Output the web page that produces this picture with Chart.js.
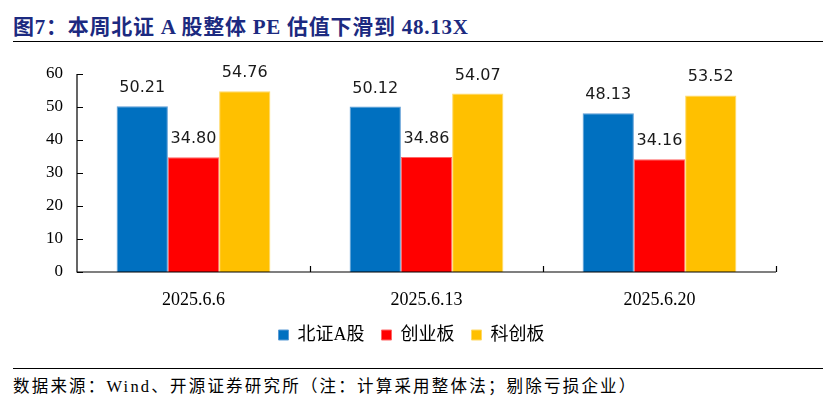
<!DOCTYPE html>
<html><head><meta charset="utf-8">
<script src="https://cdn.jsdelivr.net/npm/chart.js@4"></script>
<style>
html,body{margin:0;padding:0;background:#fff;width:823px;height:417px;overflow:hidden;position:relative}
#title{position:absolute;left:13px;top:10px;font:bold 21px "Liberation Serif","Noto Sans CJK SC",serif;color:#1c2a80;white-space:nowrap;letter-spacing:0.75px}
#tline{position:absolute;left:13px;top:41px;width:810px;height:0;border-top:1.5px solid #000}
#fline{position:absolute;left:13px;top:368px;width:810px;height:0;border-top:1.5px solid #000}
#foot{position:absolute;left:13px;top:373px;font:16.5px "Liberation Serif","Noto Sans CJK SC",serif;color:#000;white-space:nowrap;letter-spacing:2.2px}
#wrap{position:absolute;left:0;top:0;width:823px;height:354px}
</style></head>
<body>
<div id="title">图7：本周北证 A 股整体 PE 估值下滑到 48.13X</div>
<div id="tline"></div>
<div id="wrap"><canvas id="c"></canvas></div>
<div id="fline"></div>
<div id="foot">数据来源：Wind、开源证券研究所（注：计算采用整体法；剔除亏损企业）</div>
<script>
const categories = ["2025.6.6", "2025.6.13", "2025.6.20"];
const seriesNames = ["北证A股", "创业板", "科创板"];
const bzA = [50.21, 50.12, 48.13];
const cyb = [34.80, 34.86, 34.16];
const kcb = [54.76, 54.07, 53.52];
const yTicks = [0, 10, 20, 30, 40, 50, 60];
const colors = ["#0070C0", "#FF0000", "#FFC000"];
const borderColors = ["#5b9bd5", "#ff6666", "#ffd966"];

const labelPlugin = {
  id: 'vals',
  afterDatasetsDraw(chart) {
    const ctx = chart.ctx;
    ctx.save();
    ctx.font = '16px "DejaVu Sans", sans-serif';
    ctx.fillStyle = '#1a1a1a';
    ctx.textAlign = 'center';
    ctx.textBaseline = 'alphabetic';
    chart.data.datasets.forEach((ds, i) => {
      chart.getDatasetMeta(i).data.forEach((bar, j) => {
        ctx.fillText(ds.data[j].toFixed(2), bar.x, bar.y - 14);
      });
    });
    ctx.restore();
  }
};
const axisPlugin = {
  id: 'axes',
  afterDraw(chart) {
    const ctx = chart.ctx, x = chart.scales.x, y = chart.scales.y;
    const a = chart.chartArea;
    ctx.save();
    ctx.strokeStyle = '#000';
    ctx.lineWidth = 1.2;
    ctx.beginPath();
    ctx.moveTo(a.left, a.top); ctx.lineTo(a.left, a.bottom); ctx.lineTo(a.right, a.bottom);
    yTicks.forEach(v => { const py = Math.round(y.getPixelForValue(v)) + 0.5; ctx.moveTo(a.left, py); ctx.lineTo(a.left + 6, py); });
    for (let k = 1; k <= categories.length; k++) {
      const px = Math.round(x.getPixelForValue(k - 0.5)) + 0.5;
      ctx.moveTo(px, a.bottom); ctx.lineTo(px, a.bottom - 6);
    }
    ctx.stroke();
    ctx.restore();
  }
};

new Chart(document.getElementById('c'), {
  type: 'bar',
  data: {
    labels: categories,
    datasets: [bzA, cyb, kcb].map((d, i) => ({
      label: seriesNames[i], data: d, backgroundColor: colors[i],
      borderColor: borderColors[i], borderWidth: 1,
      categoryPercentage: 0.66, barPercentage: 1.0
    }))
  },
  options: {
    responsive: true, maintainAspectRatio: false, animation: false,
    devicePixelRatio: 1,
    layout: { padding: { top: 74, right: 0, left: 0, bottom: 0 } },
    plugins: {
      tooltip: { enabled: false },
      legend: {
        position: 'bottom',
        labels: {
          boxWidth: 10, boxHeight: 10, padding: 17, color: '#000',
          font: { family: '"Liberation Serif","Noto Sans CJK SC",serif', size: 18 }
        }
      }
    },
    scales: {
      x: {
        afterFit(s) { s.height = 37; },
        grid: { display: false, drawTicks: false },
        border: { display: false },
        ticks: { color: '#000', padding: 17, font: { family: '"Liberation Serif",serif', size: 18 } }
      },
      y: {
        min: 0, max: 60,
        afterFit(s) { s.width = 77; },
        afterBuildTicks(s) { s.ticks = yTicks.map(v => ({ value: v })); },
        grid: { display: false, drawTicks: false },
        border: { display: false },
        ticks: { color: '#000', padding: 14, font: { family: '"Liberation Serif",serif', size: 17 } }
      },
      yRight: {
        position: 'right', display: true,
        afterFit(s) { s.width = 47; },
        grid: { display: false, drawTicks: false },
        border: { display: false },
        ticks: { display: false }
      }
    }
  },
  plugins: [labelPlugin, axisPlugin]
});
</script>
</body></html>
